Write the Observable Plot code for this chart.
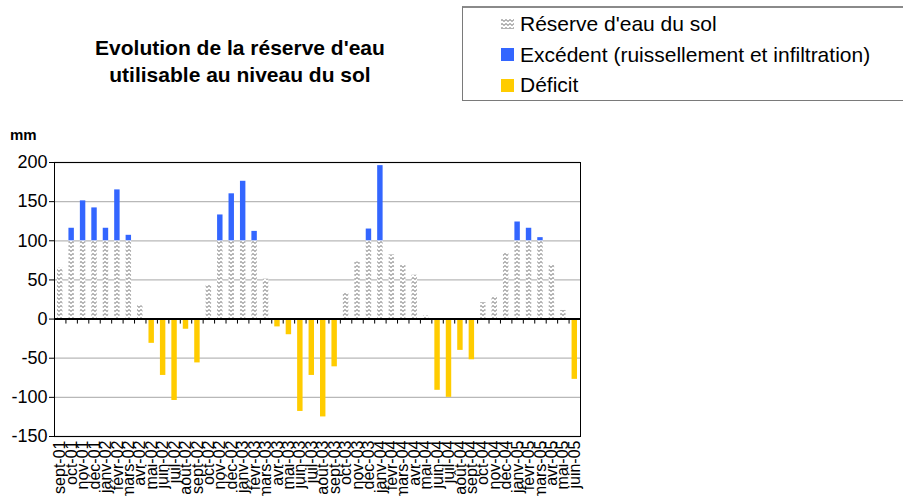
<!DOCTYPE html>
<html><head><meta charset="utf-8">
<script src="https://cdn.jsdelivr.net/npm/d3@7"></script>
<script src="https://cdn.jsdelivr.net/npm/@observablehq/plot@0.6"></script>
<style>
body{margin:0;background:#fff;font-family:"Liberation Sans",Arial,sans-serif;color:#000;}
#wrap{position:relative;width:903px;height:496px;overflow:hidden;}
#chart{position:absolute;left:0;top:0;}
.title{position:absolute;left:40px;width:400px;top:34px;text-align:center;font-weight:bold;font-size:21px;line-height:27px;}
.legend{position:absolute;left:462px;top:6px;width:470px;height:95px;border:1px solid #7a7a7a;border-top:2px solid #8a8a8a;box-sizing:border-box;}
.lt{position:absolute;left:520px;font-size:21px;line-height:21px;white-space:nowrap;}
.sw{position:absolute;left:501px;width:13px;height:13px;}
.mm{position:absolute;left:10px;top:127px;font-weight:bold;font-size:15px;line-height:15px;}
</style></head>
<body>
<svg width="0" height="0" style="position:absolute">
  <defs>
    <pattern id="wave" patternUnits="userSpaceOnUse" width="4" height="4">
      <rect width="4" height="4" fill="#fff"/>
      <path d="M0,2.5 Q1,0.6 2,2.5 T4,2.5" fill="none" stroke="#707070" stroke-width="1"/>
    </pattern>
  </defs>
</svg>
<div id="wrap">
  <div id="chart"></div>
  <div class="title">Evolution de la réserve d'eau<br>utilisable au niveau du sol</div>
  <div class="legend"></div>
  <svg class="sw" style="top:18px;height:11px" width="13" height="11"><rect width="13" height="11" fill="url(#wave)"/></svg>
  <div class="lt" style="top:13px">Réserve d'eau du sol</div>
  <div class="sw" style="top:48px;background:#3366ff"></div>
  <div class="lt" style="top:44px">Excédent (ruissellement et infiltration)</div>
  <div class="sw" style="top:79px;background:#ffcc00"></div>
  <div class="lt" style="top:74px">Déficit</div>
  <div class="mm">mm</div>
</div>
<script>
const months = ["sept-01","oct-01","nov-01","déc-01","janv-02","févr-02","mars-02","avr-02","mai-02","juin-02","juil-02","août-02",
  "sept-02","oct-02","nov-02","déc-02","janv-03","févr-03","mars-03","avr-03","mai-03","juin-03","juil-03","août-03",
  "sept-03","oct-03","nov-03","déc-03","janv-04","févr-04","mars-04","avr-04","mai-04","juin-04","juil-04","août-04",
  "sept-04","oct-04","nov-04","déc-04","janv-05","févr-05","mars-05","avr-05","mai-05","juin-05"];
const reserve = [65,100,100,100,100,100,100,17,0,0,0,0,
  0,44,100,100,100,100,51,0,0,0,0,0,
  0,34,73,100,100,82,69,56,4,0,0,0,
  0,21,29,84,100,100,100,69,11,0];
const excedent = [0,16,51,42,16,65,7,0,0,0,0,0,
  0,0,33,60,76,12,0,0,0,0,0,0,
  0,0,0,15,96,0,0,0,0,0,0,0,
  0,0,0,0,24,16,4,0,0,0];
const deficit = [0,0,0,0,0,0,0,0,-31,-72,-104,-13,
  -56,0,0,0,0,0,0,-10,-20,-118,-72,-125,
  -61,0,0,0,0,0,0,0,0,-91,-100,-40,
  -52,0,0,0,0,0,0,0,0,-77];
const yTicks = [-150,-100,-50,0,50,100,150,200];

const rows = months.map((m, i) => ({i, m, r: reserve[i], e: excedent[i], d: deficit[i]}));
const n = months.length;

const chart = Plot.plot({
  width: 903, height: 496,
  marginLeft: 54, marginRight: 323, marginTop: 162, marginBottom: 60,
  style: {fontFamily: "'Liberation Sans', Arial, sans-serif", background: "transparent", overflow: "visible", color: "#000"},
  x: {domain: [0, n], axis: null, label: null},
  y: {domain: [-150, 200], axis: null, label: null},
  marks: [
    Plot.ruleY(yTicks.filter(v => v !== 0), {stroke: "#b8b8b8", strokeWidth: 1.3}),
    Plot.rectY(rows.filter(d => d.r > 0), {x1: "i", x2: d => d.i + 1, y1: 0, y2: "r", fill: "url(#wave)", insetLeft: 3, insetRight: 3}),
    Plot.rectY(rows.filter(d => d.e > 0), {x1: "i", x2: d => d.i + 1, y1: "r", y2: d => d.r + d.e, fill: "#3366ff", insetLeft: 3, insetRight: 3}),
    Plot.rectY(rows.filter(d => d.d < 0), {x1: "i", x2: d => d.i + 1, y1: 0, y2: "d", fill: "#ffcc00", insetLeft: 3, insetRight: 3}),
    Plot.axisY({ticks: yTicks, tickSize: 5, tickPadding: 2, fontSize: 18, label: null, tickFormat: d => d < 0 ? "-" + Math.abs(d) : String(d)}),
    Plot.axisX({ticks: d3.range(n).map(i => i + 0.5), tickFormat: d => months[Math.floor(d)], tickRotate: -90, tickSize: 0, tickPadding: 4, fontSize: 16, label: null}),
    Plot.frame({stroke: "#000"}),
    Plot.ruleY([0], {stroke: "#000", strokeWidth: 2}),
    Plot.ruleX(d3.range(n + 1), {x: d => d, y1: 0, y2: 0, insetBottom: -5, stroke: "#000"})
  ]
});
document.getElementById("chart").appendChild(chart);
</script>
</body></html>
